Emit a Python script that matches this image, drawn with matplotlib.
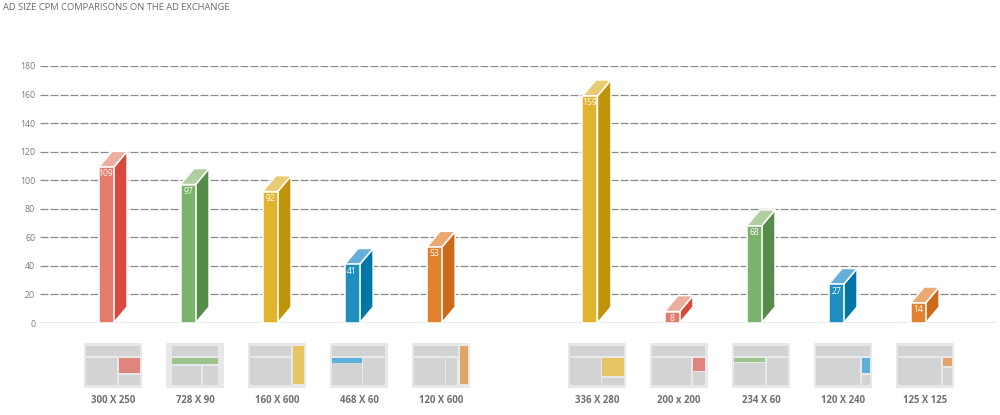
import matplotlib
matplotlib.use("Agg")
import matplotlib.pyplot as plt
from matplotlib.patches import Rectangle, Polygon

# ---------------- data ----------------
title = "AD SIZE CPM COMPARISONS ON THE AD EXCHANGE"
sizes = ["300 X 250", "728 X 90", "160 X 600", "468 X 60", "120 X 600",
         "336 X 280", "200 x 200", "234 X 60", "120 X 240", "125 X 125"]
cpm = [109, 97, 92, 41, 53, 159, 8, 68, 27, 14]
groups = [0, 0, 0, 0, 0, 1, 1, 1, 1, 1]
yticks = [0, 20, 40, 60, 80, 100, 120, 140, 160, 180]

# ---------------- styles ----------------
PAL = {
    "red":    ("#E57B6B", "#D94A3C", "#EEAE9F", "#E0847E"),
    "green":  ("#7BB36A", "#548C49", "#AFCFA0", "#9CC58E"),
    "yellow": ("#E2B42D", "#C09408", "#EBCB6F", "#E6C462"),
    "blue":   ("#1F8FC2", "#0076A7", "#66AEDA", "#5BB0DA"),
    "orange": ("#E0822E", "#CC6A1A", "#EDA872", "#E3A46C"),
}
bar_colors = ["red", "green", "yellow", "blue", "orange",
              "yellow", "red", "green", "blue", "orange"]

# icon layouts: grid units of 176 x 134 (outer box); last rect is 'ad'
ICONS = [
    [(8, 8, 168, 40), (8, 46, 101, 126), (106, 96, 168, 126), (106, 46, 168, 90)],
    [(18, 8, 157, 40), (18, 70, 106, 126), (111, 70, 157, 126), (18, 46, 157, 64)],
    [(7, 8, 131, 40), (7, 46, 131, 126), (135, 8, 168, 124)],
    [(8, 8, 166, 40), (8, 61, 96, 126), (101, 46, 166, 126), (8, 46, 96, 59)],
    [(7, 8, 139, 40), (7, 46, 99, 126), (104, 46, 137, 126), (144, 8, 169, 124)],
    [(7, 8, 169, 40), (7, 46, 99, 126), (104, 105, 169, 126), (104, 46, 169, 99)],
    [(7, 8, 167, 40), (7, 46, 124, 126), (129, 88, 167, 126), (129, 46, 167, 83)],
    [(7, 8, 170, 40), (7, 59, 100, 126), (105, 46, 170, 126), (7, 46, 100, 57)],
    [(8, 8, 169, 40), (8, 46, 139, 126), (144, 96, 169, 126), (144, 46, 169, 91)],
    [(7, 8, 170, 40), (7, 46, 137, 126), (142, 75, 170, 126), (142, 46, 170, 70)],
]

W, H = 1000, 415
fig = plt.figure(figsize=(W / 100, H / 100), dpi=100)
fig.patch.set_facecolor("white")

FONT = ["Open Sans", "DejaVu Sans"]

ax_left, ax_right, ax_bottom, ax_top = 40, 996, 323, 66
ax = fig.add_axes([ax_left / W, (H - ax_bottom) / H,
                   (ax_right - ax_left) / W, (ax_bottom - ax_top) / H])
ax.set_ylim(0, 180)
ax.set_xlim(-0.805, 10.85)
for s in ax.spines.values():
    s.set_visible(False)
ax.set_xticks([])
ax.set_yticks(yticks)
ax.set_yticklabels([str(t) for t in yticks], fontsize=6.3, color="#7a7a7a",
                   family=FONT)
ax.tick_params(axis="y", length=0, pad=3.5)
ax.patch.set_alpha(0)

for t in yticks:
    if t == 0:
        ax.axhline(t, color="#9a9a9a", lw=1.0, zorder=1)
    else:
        ax.axhline(t, color="#8a8a8a", lw=0.9, ls=(0, (6.4, 1.6)), zorder=1)

# positions: index with a gap between groups
gap = 0.9
xs = [i + gap * g for i, g in enumerate(groups)]

# pixel scale conversions through the axes transform
p0 = ax.transData.transform((0, 0))
p1 = ax.transData.transform((1, 10))
px_x = p1[0] - p0[0]          # pixels per x unit
px_y = (p1[1] - p0[1]) / 10   # pixels per y unit

w = 15 / px_x
dx = 13.5 / px_x
dy = 16 / px_y

for x, v, c in zip(xs, cpm, bar_colors):
    front, side, top, _ = PAL[c]
    x0, x1 = x - w / 2, x + w / 2
    kw = dict(ec="white", lw=1.1, joinstyle="round", clip_on=False, zorder=3)
    ax.add_patch(Polygon([(x1, 0), (x1 + dx, dy), (x1 + dx, v + dy), (x1, v)],
                         closed=True, fc=side, **kw))
    ax.add_patch(Polygon([(x0, v), (x1, v), (x1 + dx, v + dy), (x0 + dx, v + dy)],
                         closed=True, fc=top, **kw))
    ax.add_patch(Rectangle((x0, 0), w, v, fc=front, **kw))
    ax.annotate(str(v), (x, v), xytext=(0, -1.5), textcoords="offset points",
                ha="center", va="top", fontsize=6.2, color="white",
                family=FONT, zorder=4)

# overlay axes in figure pixel coordinates for title and icons
ov = fig.add_axes([0, 0, 1, 1])
ov.set_xlim(0, W)
ov.set_ylim(H, 0)
ov.axis("off")
ov.patch.set_alpha(0)

ov.text(3, 7, title, fontsize=6.75, color="#6a6a6a", family=FONT,
        ha="left", va="center")

icon_w, icon_h = 176 / 3, 134 / 3
icon_top = 343
for x, c, layout, lab in zip(xs, bar_colors, ICONS, sizes):
    cx_disp = ax.transData.transform((x, 0))[0] + 7
    left = cx_disp - icon_w / 2
    ov.add_patch(Rectangle((left, icon_top), icon_w, icon_h,
                           fc="#E8E8E9", ec="none", zorder=2))
    for k, (a, b, cc, d) in enumerate(layout):
        col = PAL[c][3] if k == len(layout) - 1 else "#D2D3D5"
        ov.add_patch(Rectangle((left + a / 3, icon_top + b / 3),
                               (cc - a) / 3, (d - b) / 3,
                               fc=col, ec="none", zorder=3))
    ov.text(cx_disp, 400, lab, fontsize=6.9, fontweight="bold",
            color="#707070", family=FONT, ha="center", va="center")

fig.savefig("out.png", dpi=100)
